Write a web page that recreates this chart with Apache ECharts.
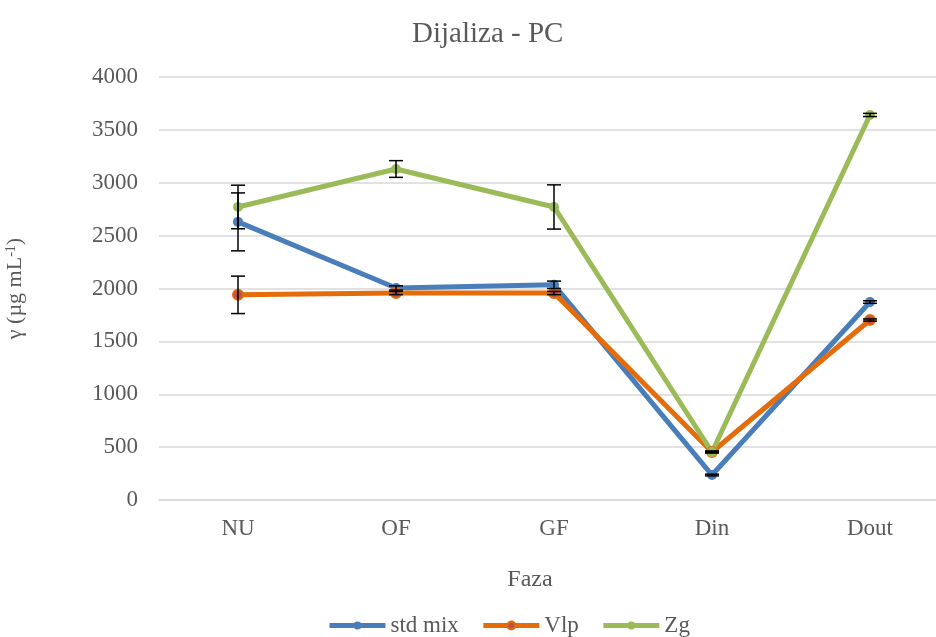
<!DOCTYPE html>
<html>
<head>
<meta charset="utf-8">
<script src="https://cdn.jsdelivr.net/npm/echarts@6/dist/echarts.min.js"></script>
<style>
  html, body { margin: 0; padding: 0; background: #fff; }
  #chart { width: 936px; height: 637px; }
</style>
</head>
<body>
<div id="chart"></div>
<script>
// Phases of the dialysis process
const categories = ['NU', 'OF', 'GF', 'Din', 'Dout'];

// Mean concentrations (µg/mL) per series
const stdMix = [2630, 2005, 2035, 236, 1872];
const vlp    = [1940, 1957, 1957, 454, 1702];
const zg     = [2771, 3130, 2771, 454, 3641];

// Standard deviations for the error bars
const stdMixErr = [274, 20, 35, 8, 12];
const vlpErr    = [177, 15, 15, 8, 10];
const zgErr     = [206, 79, 209, 8, 15];

const yTicks = { min: 0, max: 4000, interval: 500 };

const colors = { std: '#4a7ebb', vlp: '#e46c0a', zg: '#9bbb59', vlpFill: '#c0504d' };
const serif = '"Liberation Serif", "Times New Roman", serif';
const textGrey = '#595959';

function errorSeries(values, errs) {
  const data = values.map((v, i) => [i, v - errs[i], v + errs[i]]);
  return {
    type: 'custom',
    silent: true,
    z: 10,
    data: data,
    encode: { x: 0, y: [1, 2] },
    renderItem: function (params, api) {
      const x = api.value(0);
      const lo = api.coord([x, api.value(1)]);
      const hi = api.coord([x, api.value(2)]);
      const half = 7;
      const style = { stroke: '#000', lineWidth: 1.5 };
      return {
        type: 'group',
        children: [
          { type: 'line', shape: { x1: lo[0], y1: lo[1], x2: hi[0], y2: hi[1] }, style: style },
          { type: 'line', shape: { x1: lo[0] - half, y1: lo[1], x2: lo[0] + half, y2: lo[1] }, style: style },
          { type: 'line', shape: { x1: hi[0] - half, y1: hi[1], x2: hi[0] + half, y2: hi[1] }, style: style }
        ]
      };
    }
  };
}

function lineSeries(name, values, color, fill) {
  return {
    name: name,
    type: 'line',
    data: values,
    symbol: 'circle',
    symbolSize: 10,
    z: 5,
    lineStyle: { color: color, width: 5 },
    itemStyle: { color: fill || color, borderColor: color, borderWidth: fill ? 2 : 0 }
  };
}

const chart = echarts.init(document.getElementById('chart'), null, { renderer: 'canvas' });

chart.setOption({
  animation: false,
  backgroundColor: '#fff',
  title: {
    text: 'Dijaliza - PC',
    left: 407,
    top: 15,
    textStyle: { fontFamily: serif, fontSize: 29, fontWeight: 'normal', color: textGrey }
  },
  legend: {
    bottom: -5,
    left: 322,
    itemWidth: 56,
    itemHeight: 10,
    itemGap: 22,
    lineStyle: { width: 5 },
    textStyle: { fontFamily: serif, fontSize: 23, color: textGrey },
    data: ['std mix', 'Vlp', 'Zg']
  },
  grid: { left: 159, top: 77, width: 790, height: 423, outerBoundsMode: 'none' },
  xAxis: {
    type: 'category',
    data: categories,
    boundaryGap: true,
    name: 'Faza',
    nameLocation: 'middle',
    nameGap: 68,
    nameTextStyle: { fontFamily: serif, fontSize: 24, color: textGrey, padding: [0, 48, 0, 0] },
    axisLine: { show: true, lineStyle: { color: '#d9d9d9', width: 1.5 } },
    axisTick: { show: false },
    axisLabel: { fontFamily: serif, fontSize: 23, color: textGrey, margin: 17 }
  },
  yAxis: {
    type: 'value',
    min: yTicks.min,
    max: yTicks.max,
    interval: yTicks.interval,
    name: '{a|γ (µg mL}{s|-1}{a|)}',
    nameLocation: 'middle',
    nameGap: 132,
    nameRotate: 90,
    nameTextStyle: {
      rich: {
        a: { fontFamily: serif, fontSize: 22, color: textGrey },
        s: { fontFamily: serif, fontSize: 14, color: textGrey, verticalAlign: 'top', padding: [0, 0, 9, 0] }
      }
    },
    axisLine: { show: false },
    axisTick: { show: false },
    splitLine: { lineStyle: { color: '#d9d9d9', width: 1.5 } },
    axisLabel: {
      fontFamily: serif, fontSize: 23, color: textGrey, margin: 21,
      formatter: function (v) { return String(v); }
    }
  },
  series: [
    lineSeries('std mix', stdMix, colors.std),
    lineSeries('Vlp', vlp, colors.vlp, colors.vlpFill),
    lineSeries('Zg', zg, colors.zg),
    errorSeries(stdMix, stdMixErr),
    errorSeries(vlp, vlpErr),
    errorSeries(zg, zgErr)
  ]
});
</script>
</body>
</html>
